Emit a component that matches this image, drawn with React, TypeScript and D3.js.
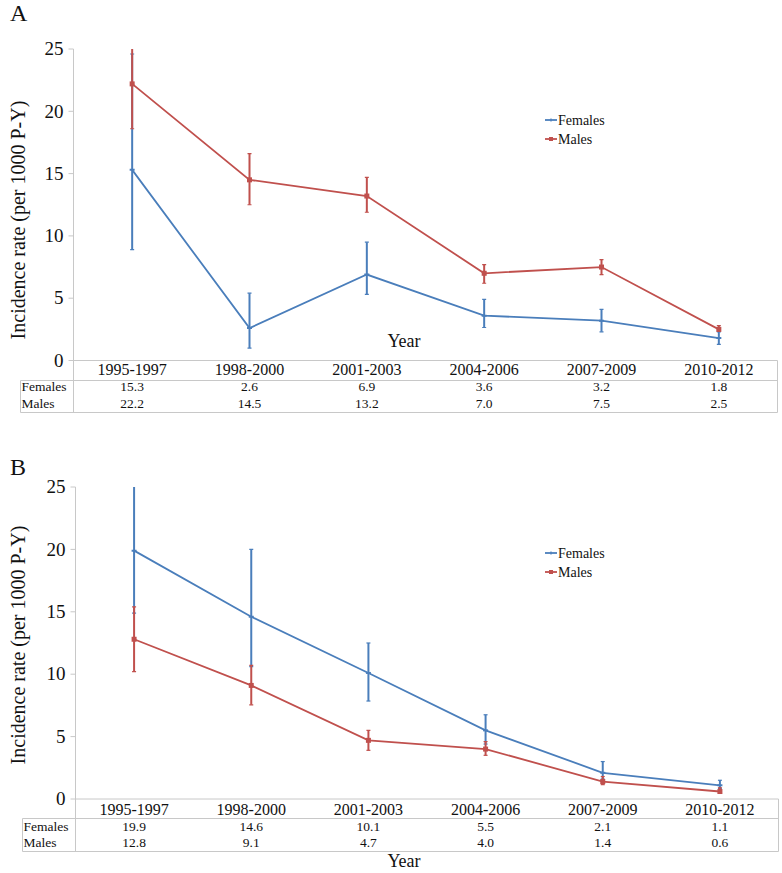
import React from 'react';
import * as d3 from 'd3';

const categories = ['1995-1997', '1998-2000', '2001-2003', '2004-2006', '2007-2009', '2010-2012'];
const yTicks = [0, 5, 10, 15, 20, 25];
const seriesNames = ['Females', 'Males'];

// Panel A
const femalesA = [15.3, 2.6, 6.9, 3.6, 3.2, 1.8];
const malesA = [22.2, 14.5, 13.2, 7.0, 7.5, 2.5];
const femalesALow = [8.9, 1.0, 5.3, 2.65, 2.3, 1.3];
const femalesAHigh = [24.6, 5.4, 9.5, 4.9, 4.1, 2.3];
const malesALow = [18.6, 12.5, 11.9, 6.2, 6.9, 2.35];
const malesAHigh = [26.0, 16.6, 14.7, 7.7, 8.1, 2.8];

// Panel B
const femalesB = [19.9, 14.6, 10.1, 5.5, 2.1, 1.1];
const malesB = [12.8, 9.1, 4.7, 4.0, 1.4, 0.6];
const femalesBLow = [14.9, 10.6, 7.85, 4.4, 1.6, 0.85];
const femalesBHigh = [26.5, 20.0, 12.5, 6.75, 3.0, 1.5];
const malesBLow = [10.2, 7.55, 3.9, 3.5, 1.15, 0.45];
const malesBHigh = [15.4, 10.7, 5.5, 4.6, 1.8, 0.9];

const BLUE = '#4a7ebb';
const RED = '#c0504d';
const GRID = '#c8c8c8';
const FONT = 'Liberation Serif, DejaVu Serif, serif';

type Series = { name: string; values: number[]; low: number[]; high: number[]; color: string; marker: 'dash' | 'square' };

type PanelProps = {
  id: string;
  label: string;
  labelY: number;
  yTop: number;
  y0: number;
  axisX: number;
  right: number;
  tableTop: number;
  tableBottom: number;
  tableLeft: number;
  catBaseline: number;
  row1Baseline: number;
  row2Baseline: number;
  yearBaseline: number;
  legendY: number;
  titleCenterY: number;
  series: Series[];
};

const txt = { fontFamily: FONT, fill: '#111' } as React.CSSProperties;

function Panel(p: PanelProps) {
  const x = d3.scaleBand<string>().domain(categories).range([p.axisX, p.right]);
  const y = d3.scaleLinear().domain([0, 25]).range([p.y0, p.yTop]);
  const cx = (c: string) => (x(c) as number) + x.bandwidth() / 2;
  const line = d3
    .line<number>()
    .x((_, i) => cx(categories[i]))
    .y((d) => y(d));
  const clipId = 'clip-' + p.id;
  return (
    <g>
      <defs>
        <clipPath id={clipId}>
          <rect x={p.axisX - 10} y={p.yTop} width={p.right - p.axisX + 20} height={p.y0 - p.yTop + 20} />
        </clipPath>
      </defs>
      <text x={10} y={p.labelY} style={{ ...txt, fontSize: 24 }}>
        {p.label}
      </text>
      <text
        transform={`translate(25,${p.titleCenterY}) rotate(-90)`}
        textAnchor="middle"
        style={{ ...txt, fontSize: 20 }}
      >
        Incidence rate (per 1000 P-Y)
      </text>
      <line x1={p.axisX} x2={p.axisX} y1={p.yTop} y2={p.tableBottom} stroke={GRID} strokeWidth={1} />
      {yTicks.map((t) => (
        <g key={t}>
          <line x1={p.axisX - 5} x2={p.axisX} y1={y(t)} y2={y(t)} stroke={GRID} strokeWidth={1} />
          <text x={p.axisX - 10} y={y(t)} dy="0.33em" textAnchor="end" style={{ ...txt, fontSize: 19 }}>
            {t}
          </text>
        </g>
      ))}
      <line x1={p.axisX} x2={p.right} y1={p.y0} y2={p.y0} stroke={GRID} strokeWidth={1} />
      <line x1={p.tableLeft} x2={p.right} y1={p.tableTop} y2={p.tableTop} stroke={GRID} strokeWidth={1} />
      <line x1={p.tableLeft} x2={p.right} y1={p.tableBottom} y2={p.tableBottom} stroke={GRID} strokeWidth={1} />
      <line x1={p.tableLeft} x2={p.tableLeft} y1={p.tableTop} y2={p.tableBottom} stroke={GRID} strokeWidth={1} />
      <line x1={p.right} x2={p.right} y1={p.y0} y2={p.tableBottom} stroke={GRID} strokeWidth={1} />
      {categories.map((c) => (
        <text key={c} x={cx(c)} y={p.catBaseline} textAnchor="middle" style={{ ...txt, fontSize: 16 }}>
          {c}
        </text>
      ))}
      {p.series.map((s, si) => (
        <g key={s.name}>
          <text x={p.tableLeft + 1} y={si === 0 ? p.row1Baseline : p.row2Baseline} style={{ ...txt, fontSize: 13.5 }}>
            {s.name}
          </text>
          {s.values.map((v, i) => (
            <text
              key={i}
              x={cx(categories[i])}
              y={si === 0 ? p.row1Baseline : p.row2Baseline}
              textAnchor="middle"
              style={{ ...txt, fontSize: 13.5 }}
            >
              {v.toFixed(1)}
            </text>
          ))}
        </g>
      ))}
      <text x={404} y={p.yearBaseline} textAnchor="middle" style={{ ...txt, fontSize: 18 }}>
        Year
      </text>
      <g clipPath={`url(#${clipId})`}>
        {p.series.map((s) => (
          <g key={s.name}>
            <path d={line(s.values) || ''} fill="none" stroke={s.color} strokeWidth={1.8} />
            {s.values.map((v, i) => {
              const px = cx(categories[i]);
              return (
                <g key={i}>
                  <line x1={px} x2={px} y1={y(s.low[i])} y2={y(s.high[i])} stroke={s.color} strokeWidth={2} />
                  <line x1={px - 2} x2={px + 2} y1={y(s.low[i])} y2={y(s.low[i])} stroke={s.color} strokeWidth={1.2} />
                  <line x1={px - 2} x2={px + 2} y1={y(s.high[i])} y2={y(s.high[i])} stroke={s.color} strokeWidth={1.2} />
                  {s.marker === 'square' ? (
                    <rect x={px - 2.5} y={y(v) - 2.5} width={5} height={5} fill={s.color} />
                  ) : (
                    <line x1={px - 2.5} x2={px + 2.5} y1={y(v)} y2={y(v)} stroke={s.color} strokeWidth={2} />
                  )}
                </g>
              );
            })}
          </g>
        ))}
      </g>
      {p.series.map((s, si) => {
        const ly = p.legendY + si * 19;
        return (
          <g key={s.name}>
            <line x1={545} x2={557} y1={ly} y2={ly} stroke={s.color} strokeWidth={1.8} />
            {s.marker === 'square' ? (
              <rect x={549} y={ly - 2} width={4} height={4} fill={s.color} />
            ) : (
              <line x1={551} x2={551} y1={ly - 1.5} y2={ly + 1.5} stroke={s.color} strokeWidth={1.2} />
            )}
            <text x={558} y={ly} dy="0.33em" style={{ ...txt, fontSize: 14 }}>
              {seriesNames[si]}
            </text>
          </g>
        );
      })}
    </g>
  );
}

export default function App() {
  const seriesA: Series[] = [
    { name: 'Females', values: femalesA, low: femalesALow, high: femalesAHigh, color: BLUE, marker: 'dash' },
    { name: 'Males', values: malesA, low: malesALow, high: malesAHigh, color: RED, marker: 'square' },
  ];
  const seriesB: Series[] = [
    { name: 'Females', values: femalesB, low: femalesBLow, high: femalesBHigh, color: BLUE, marker: 'dash' },
    { name: 'Males', values: malesB, low: malesBLow, high: malesBHigh, color: RED, marker: 'square' },
  ];
  return (
    <svg width={782} height={873} style={{ position: 'absolute', left: 0, top: 0, background: '#fff' }}>
      <rect width={782} height={873} fill="#fff" />
      <Panel
        id="a"
        label="A"
        labelY={21}
        yTop={49}
        y0={360.5}
        axisX={73.5}
        right={777.5}
        tableTop={380.5}
        tableBottom={412.5}
        tableLeft={20.5}
        catBaseline={375}
        row1Baseline={391}
        row2Baseline={407.5}
        yearBaseline={347}
        legendY={120}
        titleCenterY={220}
        series={seriesA}
      />
      <Panel
        id="b"
        label="B"
        labelY={475}
        yTop={487}
        y0={799}
        axisX={75.5}
        right={778.5}
        tableTop={818.5}
        tableBottom={851.5}
        tableLeft={22.5}
        catBaseline={815}
        row1Baseline={831}
        row2Baseline={847}
        yearBaseline={867}
        legendY={553}
        titleCenterY={645}
        series={seriesB}
      />
    </svg>
  );
}
